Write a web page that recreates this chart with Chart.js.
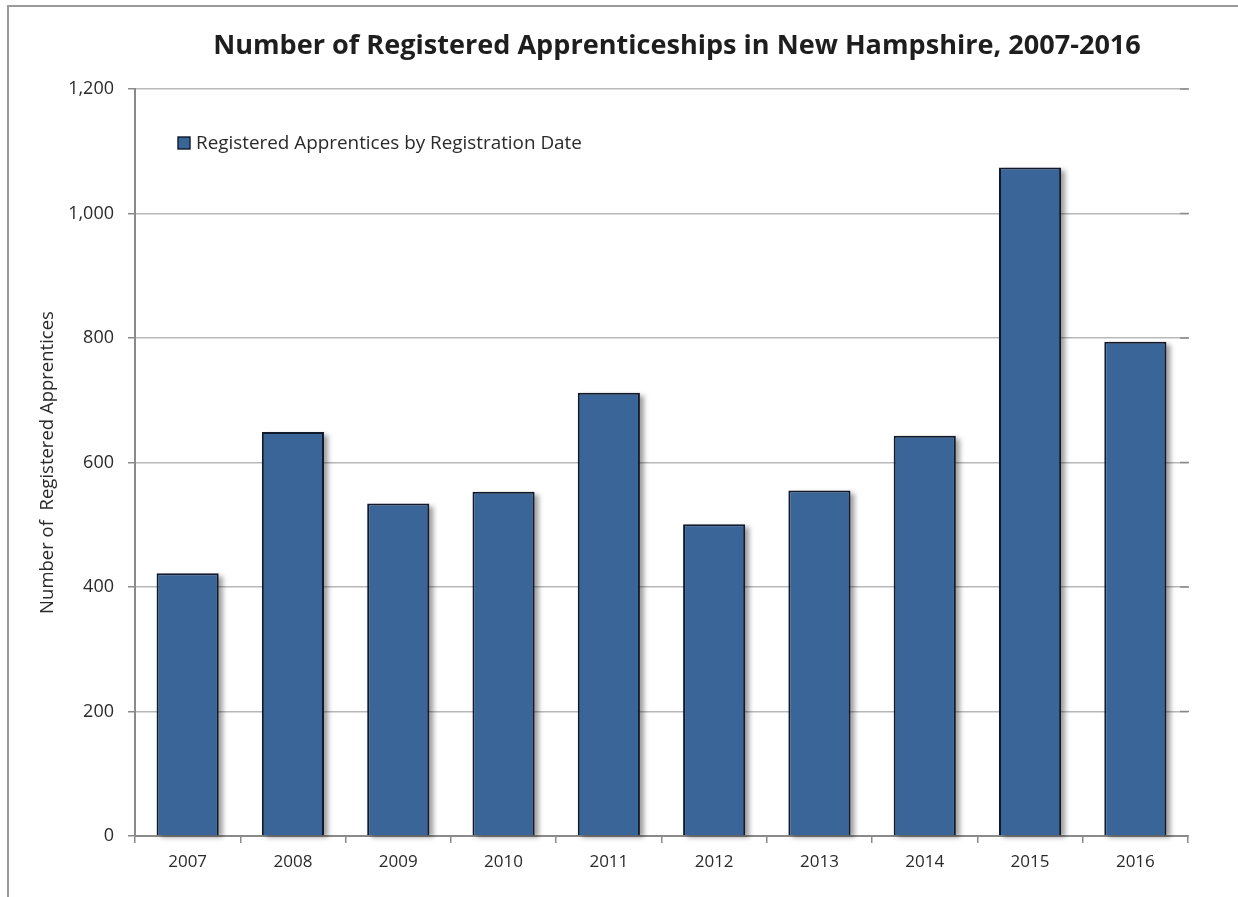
<!DOCTYPE html>
<html>
<head>
<meta charset="utf-8">
<script src="https://cdn.jsdelivr.net/npm/chart.js@4.4.0/dist/chart.umd.min.js"></script>
<style>
  html, body { margin: 0; padding: 0; background: #fff; }
  #wrap { position: relative; width: 1238px; height: 897px; }
</style>
</head>
<body>
<div id="wrap"><canvas id="c" width="1238" height="897"></canvas></div>
<script>
const titleText = 'Number of Registered Apprenticeships in New Hampshire, 2007-2016';
const categories = ['2007','2008','2009','2010','2011','2012','2013','2014','2015','2016'];
const seriesLabel = 'Registered Apprentices by Registration Date';
const seriesValues = [422, 649, 534, 553, 712, 501, 555, 643, 1074, 794];
const yAxisTitle = 'Number of  Registered Apprentices';
const yTicks = [0, 200, 400, 600, 800, 1000, 1200];

const barColor = '#3a6598';
const barBorder = '#101a2c';
const FONT = '"Open Sans", "DejaVu Sans", sans-serif';

const framePlugin = {
  id: 'frame',
  beforeDraw(chart) {
    const ctx = chart.ctx;
    ctx.save();
    ctx.fillStyle = '#fff';
    ctx.fillRect(0, 0, chart.width, chart.height);
    ctx.strokeStyle = '#9a9a9a';
    ctx.lineWidth = 2;
    ctx.beginPath();
    ctx.moveTo(8, chart.height);
    ctx.lineTo(8, 6);
    ctx.lineTo(chart.width, 6);
    ctx.stroke();
    ctx.restore();
  }
};

const shadowPlugin = {
  id: 'barShadow',
  beforeDatasetsDraw(chart) {
    const ctx = chart.ctx;
    const meta = chart.getDatasetMeta(0);
    ctx.save();
    ctx.filter = 'blur(2.5px)';
    ctx.fillStyle = 'rgba(0,0,0,0.38)';
    meta.data.forEach(bar => {
      const p = bar.getProps(['x', 'y', 'base', 'width'], true);
      const left = p.x - p.width / 2;
      ctx.fillRect(left + 4, p.y + 3, p.width, p.base - p.y - 1);
    });
    ctx.restore();
  }
};

const decorPlugin = {
  id: 'decor',
  afterDraw(chart) {
    const ctx = chart.ctx;
    const area = chart.chartArea;
    const ys = chart.scales.y;
    ctx.save();
    ctx.strokeStyle = '#8a8a8a';
    ctx.lineWidth = 1.5;
    ys.ticks.forEach(t => {
      const py = ys.getPixelForValue(t.value);
      ctx.beginPath();
      ctx.moveTo(area.right - 8, py);
      ctx.lineTo(area.right + 1, py);
      ctx.stroke();
    });
    ctx.fillStyle = '#1e1e1e';
    ctx.textAlign = 'center';
    ctx.textBaseline = 'middle';
    ctx.font = 'bold 100px ' + FONT;
    const w100 = ctx.measureText(titleText).width;
    const fs = Math.min(30, 100 * 928 / w100);
    ctx.font = 'bold ' + fs.toFixed(2) + 'px ' + FONT;
    ctx.fillText(titleText, 677, 46);
    const lx = area.left + 43, ly = area.top + 48;
    ctx.fillStyle = barColor;
    ctx.fillRect(lx, ly, 12, 12);
    ctx.strokeStyle = barBorder;
    ctx.lineWidth = 1.4;
    ctx.strokeRect(lx, ly, 12, 12);
    ctx.fillStyle = '#2a2a2a';
    ctx.textAlign = 'left';
    ctx.textBaseline = 'middle';
    ctx.font = '100px ' + FONT;
    const lw100 = ctx.measureText(seriesLabel).width;
    const lfs = Math.min(20, 100 * 386 / lw100);
    ctx.font = lfs.toFixed(2) + 'px ' + FONT;
    ctx.fillText(chart.data.datasets[0].label, lx + 18, ly + 6.5);
    ctx.restore();
  }
};

new Chart(document.getElementById('c'), {
  type: 'bar',
  data: {
    labels: categories,
    datasets: [{
      label: seriesLabel,
      data: seriesValues,
      backgroundColor: barColor,
      borderColor: barBorder,
      borderWidth: 2,
      barPercentage: 0.59,
      categoryPercentage: 1.0
    }]
  },
  options: {
    responsive: false,
    animation: false,
    devicePixelRatio: 1,
    layout: { padding: { left: 0, right: 50, top: 89, bottom: 0 } },
    plugins: {
      legend: { display: false },
      title: { display: false },
      tooltip: { enabled: false }
    },
    scales: {
      x: {
        afterFit(s) { s.height = 61; },
        grid: {
          display: true,
          drawOnChartArea: false,
          offset: true,
          tickLength: 7,
          tickColor: '#8a8a8a',
          lineWidth: 1.5
        },
        border: { display: true, color: '#8a8a8a', width: 2 },
        ticks: {
          color: '#2a2a2a',
          font: { family: FONT, size: 17 },
          padding: 9,
          maxRotation: 0
        }
      },
      y: {
        min: 0,
        max: 1200,
        afterFit(s) { s.width = 135; },
        afterBuildTicks(s) { s.ticks = yTicks.map(v => ({ value: v })); },
        grid: {
          color: '#b8b8b8',
          lineWidth: 1.5,
          tickLength: 7,
          tickColor: '#8a8a8a'
        },
        border: { display: true, color: '#8a8a8a', width: 2 },
        ticks: {
          color: '#2a2a2a',
          font: { family: FONT, size: 18 },
          padding: 14,
          callback: v => v.toLocaleString('en-US')
        },
        title: {
          display: true,
          text: yAxisTitle,
          color: '#2a2a2a',
          font: { family: FONT, size: 18.5 },
          padding: { top: 37, bottom: 0 }
        }
      }
    }
  },
  plugins: [framePlugin, shadowPlugin, decorPlugin]
});
</script>
</body>
</html>
